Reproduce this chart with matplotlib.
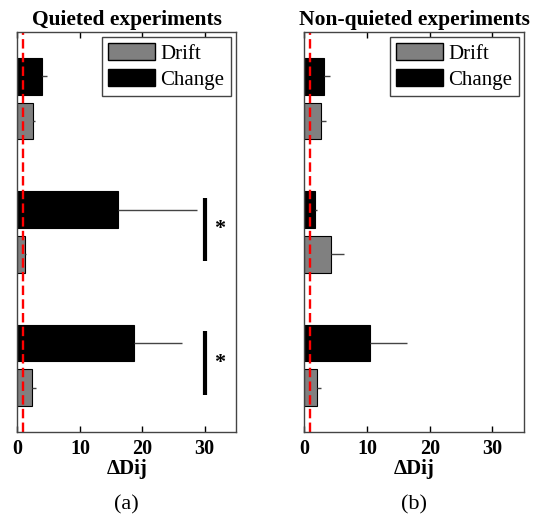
import matplotlib
matplotlib.use('Agg')
import matplotlib.pyplot as plt
import numpy as np
from matplotlib.patches import Patch

plt.rcParams['font.family'] = ['Liberation Serif', 'DejaVu Serif']

groups = [3, 2, 1]  # top to bottom
titles = ['Quieted experiments', 'Non-quieted experiments']
panel_tags = ['(a)', '(b)']

drift_q = [2.5, 1.15, 2.35]
drift_q_err = [0.3, 0.15, 0.55]
change_q = [3.85, 16.1, 18.7]
change_q_err = [0.95, 12.6, 7.6]

drift_n = [2.7, 4.2, 1.95]
drift_n_err = [0.8, 2.1, 0.65]
change_n = [3.07, 1.73, 10.4]
change_n_err = [1.0, 0.3, 5.9]

threshold = 0.88
sig_x = 30
sig_groups = [2, 1]  # only quieted panel

fig = plt.figure(figsize=(5.38, 5.17), dpi=100)
ax1 = fig.add_axes([0.0325, 0.1644, 0.406, 0.7737])
ax2 = fig.add_axes([0.5656, 0.1644, 0.408, 0.7737])

data = [(drift_q, drift_q_err, change_q, change_q_err),
        (drift_n, drift_n_err, change_n, change_n_err)]

for i, ax in enumerate([ax1, ax2]):
    d, de, c, ce = data[i]
    y = np.array(groups, dtype=float)
    ax.barh(y + 0.167, c, height=0.275, color='black', edgecolor='black', lw=0.8)
    ax.barh(y - 0.167, d, height=0.275, color='#808080', edgecolor='black', lw=0.8)
    ax.errorbar(c, y + 0.167, xerr=[np.zeros(3), ce], fmt='none', ecolor='#444444',
                elinewidth=1, capsize=0)
    ax.errorbar(d, y - 0.167, xerr=[np.zeros(3), de], fmt='none', ecolor='#444444',
                elinewidth=1, capsize=0)
    ax.axvline(threshold, color='red', ls=(0, (4, 1.8)), lw=1.7)
    ax.set_xlim(0, 35)
    ax.set_ylim(0.5, 3.5)
    ax.set_yticks([])
    ax.set_xticks([0, 10, 20, 30])
    ax.tick_params(axis='x', direction='in', top=True, length=4, width=1, labelsize=14.5, pad=5)
    for lab in ax.get_xticklabels():
        lab.set_fontweight('bold')
    for s in ax.spines.values():
        s.set_color('#444444')
        s.set_linewidth(1)
    ax.set_title(titles[i], fontsize=15.5, fontweight='bold', pad=5)
    ax.set_xlabel('ΔDij', fontsize=15, fontweight='bold', labelpad=0)
    ax.text(0.5, -0.182, panel_tags[i], transform=ax.transAxes, ha='center', va='center',
            fontsize=16)
    handles = [Patch(facecolor='#808080', edgecolor='black', label='Drift'),
               Patch(facecolor='black', edgecolor='black', label='Change')]
    leg = ax.legend(handles=handles, loc='upper right', fontsize=15, fancybox=False,
                    edgecolor='#444444', framealpha=1, borderaxespad=0.25,
                    handlelength=2.25, handleheight=0.85, handletextpad=0.25,
                    labelspacing=0.25, borderpad=0.3)
    leg.get_frame().set_linewidth(1)

for g in sig_groups:
    ax1.plot([sig_x, sig_x], [g - 0.22, g + 0.255], color='black', lw=3, solid_capstyle='butt')
    ax1.text(32.4, g + 0.02, '*', fontsize=16, fontweight='bold', ha='center', va='center')

fig.savefig('out.png', dpi=100)
